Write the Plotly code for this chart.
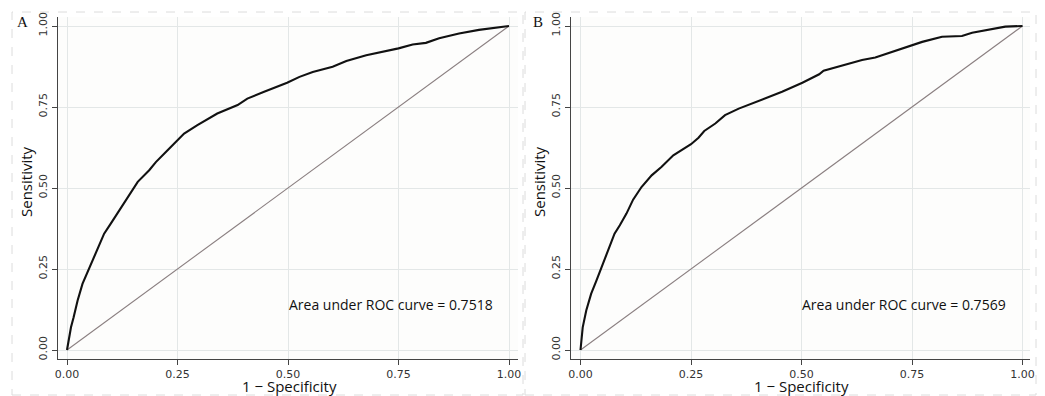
import plotly.graph_objects as go

# Panel A ROC curve (1 - specificity, sensitivity)
fpr_a = [0, 0.004, 0.009, 0.015, 0.024, 0.035, 0.052, 0.067, 0.084, 0.099, 0.118, 0.137,
         0.160, 0.186, 0.201, 0.227, 0.246, 0.265, 0.295, 0.340, 0.386, 0.408, 0.446,
         0.498, 0.526, 0.556, 0.601, 0.632, 0.677, 0.722, 0.750, 0.782, 0.812, 0.842,
         0.887, 0.932, 0.970, 1.0]
tpr_a = [0, 0.035, 0.070, 0.101, 0.153, 0.204, 0.256, 0.307, 0.359, 0.390, 0.431, 0.472,
         0.519, 0.555, 0.580, 0.616, 0.642, 0.668, 0.694, 0.730, 0.756, 0.776, 0.797,
         0.825, 0.843, 0.858, 0.874, 0.892, 0.910, 0.922, 0.931, 0.943, 0.948, 0.962,
         0.977, 0.988, 0.995, 1.0]

# Panel B ROC curve
fpr_b = [0, 0.005, 0.013, 0.024, 0.036, 0.051, 0.066, 0.077, 0.089, 0.104, 0.119, 0.138,
         0.161, 0.183, 0.210, 0.229, 0.250, 0.267, 0.280, 0.305, 0.327, 0.358, 0.388,
         0.418, 0.456, 0.502, 0.517, 0.540, 0.550, 0.592, 0.637, 0.667, 0.705, 0.727,
         0.773, 0.818, 0.863, 0.886, 0.923, 0.961, 1.0]
tpr_b = [0, 0.070, 0.122, 0.173, 0.214, 0.266, 0.318, 0.359, 0.385, 0.421, 0.464, 0.503,
         0.539, 0.565, 0.601, 0.616, 0.635, 0.655, 0.676, 0.699, 0.725, 0.745, 0.761,
         0.776, 0.797, 0.825, 0.835, 0.851, 0.862, 0.879, 0.895, 0.903, 0.920, 0.928,
         0.951, 0.967, 0.969, 0.979, 0.988, 0.998, 1.0]

ref_line = [0, 1]
tick_vals = [0, 0.25, 0.5, 0.75, 1.0]
tick_text = ["0.00", "0.25", "0.50", "0.75", "1.00"]
panel_labels = ["A", "B"]
auc_text = ["Area under ROC curve = 0.7518", "Area under ROC curve = 0.7569"]
x_title = "1 \u2212 Specificity"
y_title = "Sensitivity"

W, H = 1045, 396
fig = go.Figure()

curve_col = "#111111"
diag_col = "#8a7f80"

for i, (fx, ty) in enumerate([(fpr_a, tpr_a), (fpr_b, tpr_b)]):
    xa = "x" if i == 0 else "x2"
    ya = "y" if i == 0 else "y2"
    fig.add_trace(go.Scatter(x=ref_line, y=ref_line, mode="lines", xaxis=xa, yaxis=ya,
                             line=dict(color=diag_col, width=1.1), showlegend=False,
                             hoverinfo="skip"))
    fig.add_trace(go.Scatter(x=fx, y=ty, mode="lines", xaxis=xa, yaxis=ya,
                             line=dict(color=curve_col, width=2.1), showlegend=False))

tick_font = dict(family="DejaVu Sans", size=11, color="#333333")
title_font = dict(family="Open Sans", size=15, color="#111111")

def xaxis(domain, rng, anchor):
    return dict(domain=domain, range=rng, anchor=anchor, tickvals=tick_vals, ticktext=tick_text,
                showline=True, linecolor="#444444", linewidth=1.3, ticks="outside",
                ticklen=5, tickcolor="#444444", showgrid=True, gridcolor="#e3e7e7",
                gridwidth=1.3, zeroline=False, tickfont=tick_font, automargin=False)

def yaxis(domain, rng, anchor):
    return dict(domain=domain, range=rng, anchor=anchor, tickvals=tick_vals, ticktext=tick_text,
                showline=True, linecolor="#444444", linewidth=1.3, ticks="outside",
                ticklen=5, tickcolor="#444444", showgrid=True, gridcolor="#e3e7e7",
                gridwidth=1.3, zeroline=False, tickfont=tick_font, tickangle=-90,
                automargin=False)

ydom = [1 - 359 / H, 1 - 17 / H]
yr = [-9 / 324, 1 + 9 / 324]
fig.update_layout(
    width=W, height=H,
    margin=dict(l=0, r=0, t=0, b=0),
    paper_bgcolor="white",
    plot_bgcolor="#fdfdfc",
    xaxis=xaxis([58 / W, 518 / W], [-9 / 442, 1 + 9 / 442], "y"),
    yaxis=yaxis(ydom, yr, "x"),
    xaxis2=xaxis([571 / W, 1030 / W], [-9.5 / 442, 1 + 7.5 / 442], "y2"),
    yaxis2=yaxis(ydom, yr, "x2"),
)

# dashed panel borders
for x0, x1 in [(12, 523), (525, 1036)]:
    fig.add_shape(type="rect", xref="paper", yref="paper",
                  x0=x0 / W, x1=x1 / W, y0=1 - 395 / H, y1=1 - 12 / H,
                  line=dict(color="#dcdcdc", width=1, dash="dash"), layer="below")

# panel labels
for lab, px in zip(panel_labels, [22, 538]):
    fig.add_annotation(text=lab, xref="paper", yref="paper", x=px / W, y=1 - 22 / H,
                       showarrow=False, xanchor="center", yanchor="middle",
                       font=dict(family="Liberation Serif", size=15, color="#111111"))

# axis titles
for xc, yc in [(26, 182), (539, 182)]:
    fig.add_annotation(text=y_title, xref="paper", yref="paper", x=xc / W, y=1 - yc / H,
                       showarrow=False, textangle=-90, xanchor="center", yanchor="middle",
                       font=title_font)
for xc in [289, 801]:
    fig.add_annotation(text=x_title, xref="paper", yref="paper", x=xc / W, y=1 - 386 / H,
                       showarrow=False, xanchor="center", yanchor="middle", borderpad=0,
                       font=title_font)

# AUC annotations
for txt, xa, ya in zip(auc_text, ["x", "x2"], ["y", "y2"]):
    fig.add_annotation(text=txt, xref=xa, yref=ya, x=0.968, y=0.139, showarrow=False,
                       xanchor="right", yanchor="middle",
                       font=dict(family="Open Sans", size=14, color="#111111"))

fig.write_html("out.html", config={"displayModeBar": False},
               post_script="document.body.style.margin='0';document.body.style.overflow='hidden';")
